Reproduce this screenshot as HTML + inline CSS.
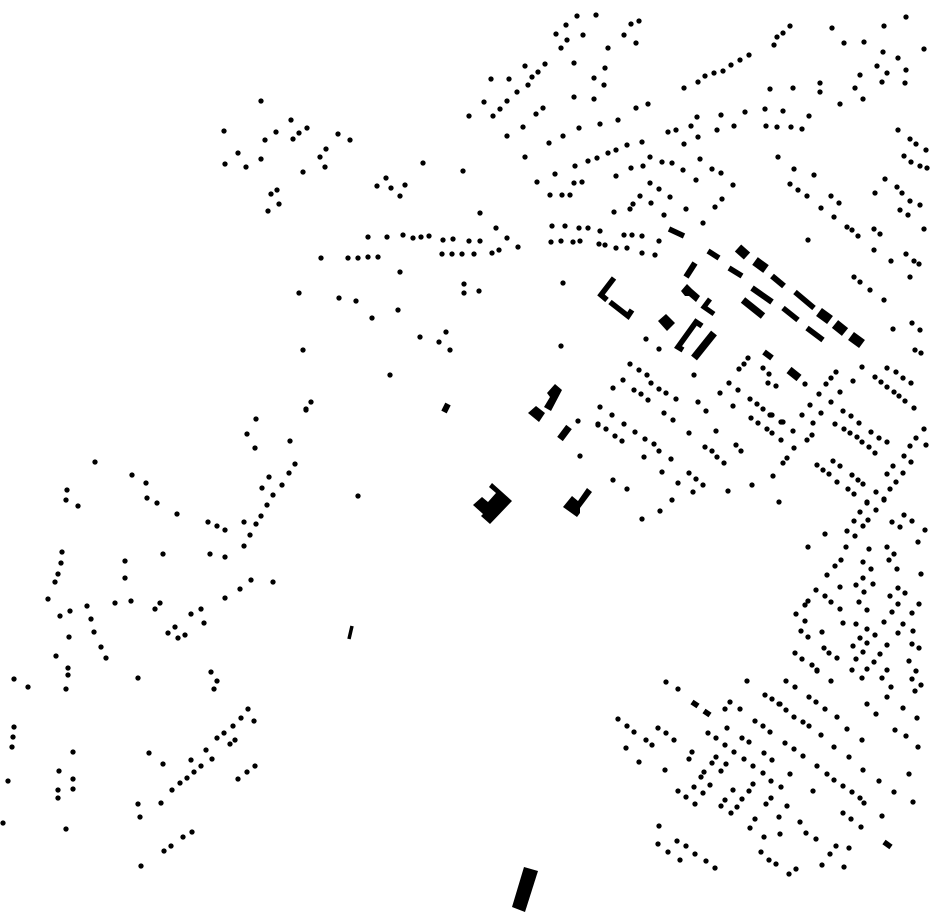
<!DOCTYPE html>
<html><head><meta charset="utf-8"><style>html,body{margin:0;padding:0;background:#fff}svg{display:block}</style></head><body>
<svg width="930" height="924" viewBox="0 0 930 924" xmlns="http://www.w3.org/2000/svg">
<rect width="930" height="924" fill="#fff"/>
<path fill="none" stroke="#000" stroke-width="5.3" stroke-linecap="round" d="
M577 16h0M596 15h0M566 25h0M556 34h0M583 35h0M567 40h0M561 48h0M631 24h0M639 21h0M624 35h0M636 43h0M608 48h0M574 63h0M605 68h0M594 78h0M604 85h0M574 97h0M594 99h0
M525 66h0M545 64h0M538 72h0M532 77h0M491 79h0M509 79h0M528 85h0M517 92h0M507 101h0M484 102h0M500 109h0M493 116h0M469 116h0M543 108h0M536 114h0M523 127h0M507 136h0
M749 55h0M740 60h0M731 65h0M723 71h0M714 73h0M705 76h0M698 82h0M684 88h0M648 104h0M636 108h0M618 120h0M600 124h0M579 128h0M563 136h0M549 143h0
M745 112h0M721 115h0M697 117h0M734 126h0M717 130h0M691 126h0M676 130h0M668 132h0M698 137h0M684 144h0M642 142h0M627 145h0M616 150h0M608 153h0M597 158h0M588 161h0M575 166h0M555 174h0M537 182h0M525 157h0M463 171h0
M650 157h0M643 166h0M631 168h0M616 176h0M662 162h0M672 163h0M683 170h0M700 159h0M712 169h0M721 173h0M696 180h0M733 185h0M722 199h0M715 207h0M703 223h0
M650 183h0M659 189h0M670 197h0M640 196h0M651 203h0M633 204h0M630 209h0M614 212h0M664 215h0M686 209h0M582 182h0M574 183h0M570 195h0M562 195h0M550 195h0
M480 213h0M496 228h0M507 238h0M518 247h0M469 241h0M480 241h0M499 250h0M492 253h0M474 254h0M462 254h0
M552 226h0M565 226h0M579 228h0M588 228h0M600 231h0M551 242h0M561 241h0M573 242h0M580 241h0M599 244h0M605 245h0M616 248h0M627 248h0M642 253h0M655 255h0M659 241h0M624 235h0M632 235h0M642 236h0
M808 240h0M847 227h0M852 230h0M858 236h0M874 229h0M880 234h0M874 250h0M854 277h0M860 282h0M870 290h0M884 300h0
M646 339h0M659 349h0M630 364h0M639 370h0M647 375h0M694 375h0M748 358h0M744 364h0M739 369h0M763 368h0M769 374h0M862 367h0M836 372h0M831 378h0
M651 383h0M623 380h0M613 388h0M659 389h0M666 393h0M676 399h0M634 390h0M641 394h0M648 400h0M698 402h0M706 411h0M720 393h0M729 383h0M738 390h0M733 406h0M768 383h0M776 386h0M805 384h0
M826 384h0M819 394h0M840 392h0M810 405h0M831 402h0M821 413h0M802 415h0M813 423h0M812 435h0M807 440h0M794 448h0M787 458h0M783 463h0M773 476h0M793 431h0M781 440h0
M750 399h0M757 404h0M763 409h0M770 415h2M781 422h2M751 418h0M758 423h0M767 429h0M772 433h0
M853 381h0M887 368h0M896 372h0M903 378h0M911 383h0M875 377h0M881 382h0M887 387h0M894 392h0M899 396h0M905 401h0M914 408h0M915 350h0M921 353h0
M843 411h0M851 416h0M859 423h0M871 432h0M879 438h0M887 442h0M835 424h0M844 429h0M850 433h0M857 437h0M862 442h0M869 447h0M875 453h0
M924 429h0M916 438h0M910 446h0M926 445h0M904 456h0M911 462h0M893 466h0M887 474h0M903 473h0M896 482h0M890 489h0M884 499h0M876 492h0M876 510h0M867 502h0M860 512h0M868 520h0M854 521h0M863 526h0M847 531h0M855 536h0M825 534h0
M833 461h0M840 466h0M817 465h0M823 470h0M829 474h0M837 482h0M852 475h0M858 480h0M863 484h0M848 489h0M854 494h0M892 522h0M904 515h0M912 521h0M900 527h0M925 530h0M779 502h0M752 485h0M728 491h0
M600 407h0M612 415h0M624 424h0M598 425h0M606 429h0M615 436h0M622 441h0M635 432h0M645 439h0M654 444h0M659 451h0M644 457h0M671 459h0M664 413h0M673 420h0M689 433h0M716 431h0M705 447h0M712 451h0M717 457h0M724 463h0M736 445h0M741 451h0
M662 472h0M689 473h0M696 479h0M703 485h0M678 483h0M693 492h0M672 500h0M660 511h0M642 519h0M613 480h0M627 489h0M578 421h0M600 407h0M598 424h0M606 429h0M580 456h0
M867 503h0M884 500h0M918 542h0M808 547h0M846 547h0M869 549h0M887 547h0M894 554h0M889 560h0M863 562h0M841 560h0M835 566h0M827 575h0M871 569h0M897 569h0M921 574h0M863 578h0M856 585h0M873 584h0M840 587h0M816 590h0M864 592h0M898 588h0M905 593h0M890 596h0M825 596h0M831 602h0M808 601h0M805 605h0M859 602h0M898 604h0M919 604h0M840 609h0M867 610h0M892 612h0M912 613h0M796 614h0M805 621h0M843 623h0M856 624h0M884 622h0M903 624h0M867 629h0M913 631h0M801 631h0M822 632h0M898 633h0M875 635h0M808 637h0M860 638h0M867 643h0M853 646h0M887 645h0M912 644h0M919 648h0M824 648h0M829 653h0M863 652h0M795 653h0M880 654h0M837 658h0M802 659h0M856 659h0M909 661h0M874 662h0M812 665h0M817 670h0M852 670h0M867 669h0M887 670h0M916 671h0M882 678h0M912 679h0M862 678h0M921 685h0M786 681h0M795 687h0M831 681h0M891 687h0M915 691h0M887 697h0M809 697h0M816 702h0M825 709h0M867 704h0M903 708h0M876 714h0M786 710h0M794 717h0M837 717h0M917 718h0M780 704h0
M666 682h0M678 689h0M747 681h0M817 671h0M765 695h0M772 699h0M779 704h0M803 722h0M809 726h0M847 729h0M821 735h0M862 740h0M895 730h0M906 736h0M918 747h0
M730 702h0M725 709h0M740 709h0M618 719h0M627 726h0M634 732h0M646 740h0M652 745h0M658 728h0M666 733h0M674 740h0M626 748h0M639 762h0M665 770h0
M755 721h0M763 726h0M770 732h0M727 728h0M708 733h0M716 738h0M725 745h0M742 738h0M749 742h0M734 752h0M744 759h0M753 766h0M763 773h0M771 781h0M781 787h0M785 743h0M794 749h0M803 756h0M764 753h0M772 760h0M790 774h0M817 766h0M827 774h0M834 780h0M843 786h0M852 792h0M860 798h0M864 803h0M834 747h0M849 757h0M863 770h0M879 781h0M894 792h0M909 774h0M913 802h0M813 791h0M843 813h0M851 819h0M861 827h0M882 816h0M787 806h0M800 822h0M806 833h0M816 839h0M779 817h0M780 834h0M764 837h0M750 828h0M755 819h0
M692 752h0M689 759h0M716 757h0M712 763h0M726 764h0M721 771h0M704 772h0M701 777h0M710 785h0M694 787h0M703 793h0M678 791h0M686 797h0M695 804h0M753 784h0M749 791h0M733 790h0M742 799h0M725 800h0M721 806h0M737 807h0M731 813h0M771 798h0M766 804h0
M659 826h0M658 844h0M677 841h0M686 846h0M668 852h0M695 854h0M680 860h0M706 861h0M715 868h0M761 852h0M769 860h0M776 864h0M796 869h0M789 874h0M822 865h0M844 867h0M830 854h0M836 846h0M849 848h0
M306 410h0M256 419h0M247 434h0M255 448h0M290 441h0M295 464h0M289 473h0M269 477h0M282 485h0M262 488h0M273 495h0M267 505h0M261 516h0M256 524h0M244 522h0M250 535h0M244 546h0M225 530h0M217 526h0M208 522h0M177 514h0M157 503h0M147 498h0M146 483h0M132 475h0M95 462h0
M67 490h0M66 500h0M78 506h0M62 552h0M61 563h0M58 574h0M55 582h0M48 599h0M125 561h0M125 578h0M163 554h0M210 554h0M225 557h0
M115 603h0M131 601h0M87 606h0M70 611h0M60 616h0M91 619h0M94 632h0M69 637h0M101 647h0M106 658h0M56 656h0M68 668h0M68 675h0M66 689h0M14 679h0M28 687h0M138 678h0
M160 603h0M155 609h0M225 598h0M240 589h0M251 580h0M273 582h0M201 609h0M191 614h0M204 623h0M175 627h0M168 633h0M185 635h0M178 638h0M211 672h0M217 681h0M214 689h0
M14 727h0M13 737h0M12 747h0M8 781h0M3 823h0M73 752h0M59 771h0M73 779h0M73 789h0M58 790h0M58 798h0M66 829h0
M149 753h0M163 764h0M138 804h0M140 817h0M161 803h0M172 790h0M180 783h0M187 778h0M194 772h0M201 766h0M212 759h0M191 760h0M206 750h0M217 738h0M224 733h0M233 726h0M241 718h0M248 709h0M254 721h0M235 740h0M230 744h0M255 766h0M247 772h0M238 779h0M192 832h0M183 837h0M171 846h0M164 851h0M141 866h0
M261 101h0M224 131h0M291 120h0M307 128h0M299 133h0M293 139h0M276 132h0M265 140h0M238 153h0M261 159h0M225 164h0M246 167h0M338 134h0M350 140h0M326 149h0M320 157h0M325 167h0M303 172h0M271 194h0M277 190h0M279 204h0M268 211h0
M386 178h0M377 186h0M391 188h0M405 185h0M400 196h0M423 163h0
M368 237h0M387 237h0M403 235h0M413 238h0M421 237h0M429 236h0M443 240h0M453 239h0M452 254h0M442 254h0M321 258h0M348 258h0M358 258h0M368 257h0M378 257h0M400 272h0
M299 293h0M339 298h0M356 301h0M372 318h0M398 310h0M420 337h0M439 342h0M446 332h0M450 350h0M303 350h0M390 375h0M311 402h0M306 409h0M358 496h0M464 284h0M464 293h0M479 291h0M563 283h0M561 346h0
M790 26h0M783 33h0M777 37h0M774 45h0M832 28h0M844 43h0M864 42h0M884 26h0M906 17h0M924 49h0M883 52h0M898 58h0M877 66h0M906 70h0M887 73h0M860 75h0M855 88h0M882 82h0M905 83h0M863 99h0M840 104h0
M770 89h0M793 88h0M820 83h0M820 92h0M765 109h0M783 111h0M809 116h0M766 126h0M777 127h0M791 127h0M802 129h0
M898 130h0M910 139h0M916 144h0M926 150h0M904 156h0M911 162h0M920 166h0M927 168h0M778 157h0M794 169h0M814 175h0M885 179h0M897 187h0M902 193h0M875 193h0M910 201h0M920 205h0M900 210h0M908 215h0
M790 184h0M798 190h0M807 196h0M831 196h0M839 203h0M821 208h0M834 217h0M924 229h0M891 261h0M906 254h0M914 261h0M919 264h0M910 277h0M912 323h0M920 330h0M893 329h0
"/>
<g fill="none" stroke="#000" stroke-linecap="butt" stroke-linejoin="miter">
<path stroke-width="5.5" d="M669 229L684 236"/>
<path stroke-width="5.5" d="M708 251L719 258"/>
<path stroke-width="9.5" d="M738 248L747 256"/>
<path stroke-width="9.5" d="M755 261L766 269"/>
<path stroke-width="5.5" d="M729 268L742 276"/>
<path stroke-width="6" d="M772 276L784 286"/>
<path stroke-width="6" d="M695 263L686 277"/>
<path stroke-width="6" d="M752 288L772 302"/>
<path stroke-width="7" d="M743 300L763 316"/>
<path stroke-width="5.5" d="M795 292L814 308"/>
<path stroke-width="5.5" d="M783 308L798 320"/>
<path stroke-width="10" d="M819 312L830 320"/>
<path stroke-width="10" d="M835 324L845 332"/>
<path stroke-width="10" d="M851 336L862 344"/>
<path stroke-width="5.5" d="M807 328L823 340"/>
<path stroke-width="5.5" d="M614 278L601 295L607 300"/>
<path stroke-width="5.5" d="M610 302L628 316L632 310"/>
<path stroke-width="5.5" d="M702 326L696 322L678 347L683 350"/>
<path stroke-width="7.5" d="M714 333L694 358"/>
<path stroke-width="5" d="M710 299L704 307L714 314"/>
<path stroke-width="6" d="M764 352L772 358"/>
<path stroke-width="8" d="M789 370L799 378"/>
<path stroke-width="6" d="M448 404L444 412"/>
<path stroke-width="7" d="M569 427L560 439"/>
<path stroke-width="3.5" d="M352 626L349 639"/>
<path stroke-width="5.5" d="M692 702L698 706M704 711L710 715M884 842L891 847"/>
</g>
<g fill="#000">
<polygon points="666,314 675,323 667,331 658,321"/>
<polygon points="687,284 692,289 700,296 696,302 689,296 685,296 681,291"/>
<polygon points="555,384 562,390 551,411 544,407 550,397 547,393"/>
<polygon points="528,413 536,406 545,413 539,422"/>
<polygon points="473,505 482,497 488,502 496,493 489,487 492,483 512,501 490,524 481,516 483,514"/>
<polygon points="563,507 572,496 578,501 587,488 592,492 580,508 580,513 577,517"/>
<polygon points="524,867 538,871 525,912 512,907"/>
</g>
</svg>
</body></html>
